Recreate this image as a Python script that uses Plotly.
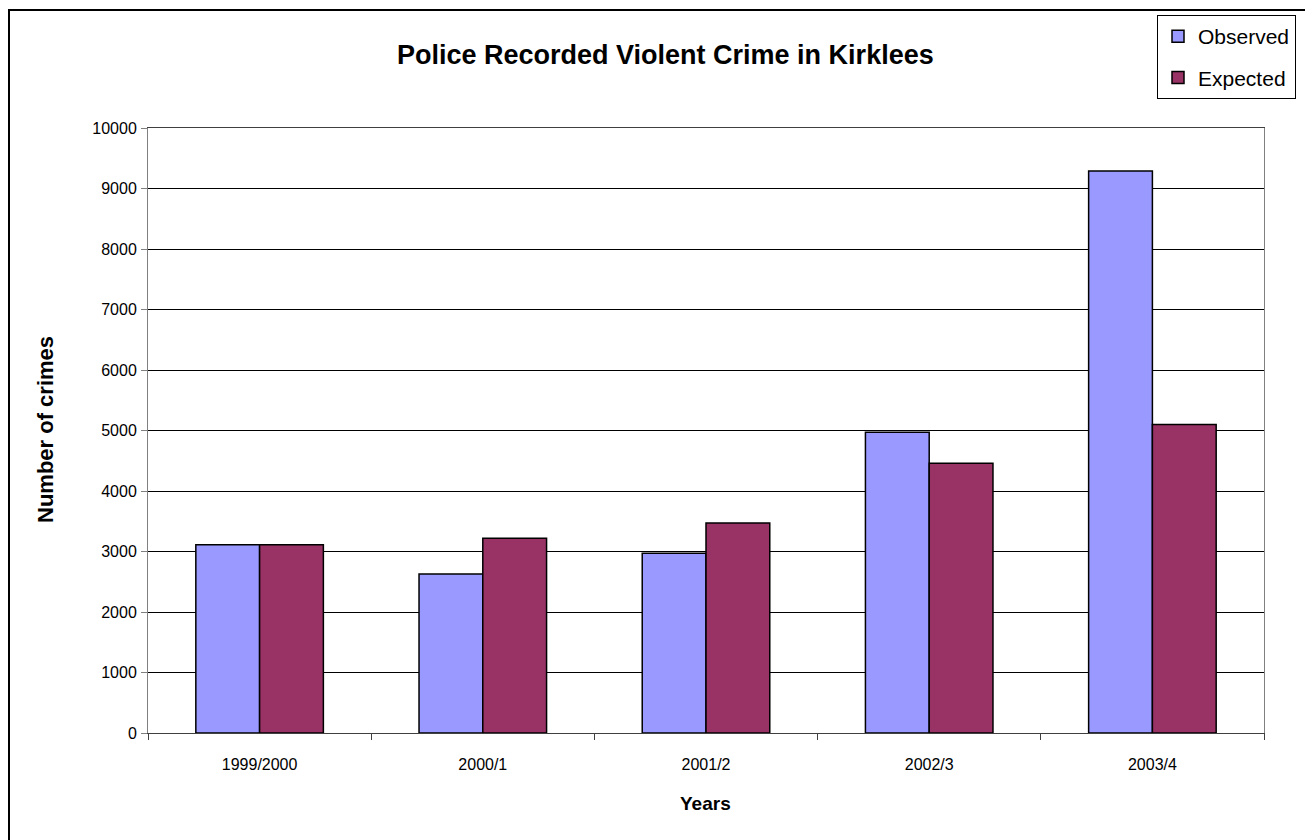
import plotly.graph_objects as go

years = ["1999/2000", "2000/1", "2001/2", "2002/3", "2003/4"]
observed = [3110, 2630, 2970, 4970, 9290]
expected = [3110, 3220, 3470, 4460, 5100]

W, H = 1305, 840
FONT = "Liberation Sans, Arial, sans-serif"

def px(x):
    return x / W

def py(y):
    return 1 - y / H

fig = go.Figure()
fig.add_trace(go.Bar(
    x=years, y=observed, name="Observed", legendgroup="a",
    marker=dict(color="#9999FF", line=dict(color="black", width=1.5)),
))
fig.add_trace(go.Bar(
    x=years, y=expected, name="Expected", legendgroup="b",
    marker=dict(color="#993366", line=dict(color="black", width=1.5)),
))

fig.update_layout(
    width=W, height=H,
    margin=dict(l=0, r=0, t=0, b=0, autoexpand=False),
    paper_bgcolor="white", plot_bgcolor="white",
    font=dict(family=FONT, size=16, color="black"),
    barmode="group", bargap=0.4286, bargroupgap=0,
    showlegend=True,
    legend=dict(
        x=px(1157), y=py(15), xanchor="left", yanchor="top",
        bordercolor="black", borderwidth=1, bgcolor="white",
        font=dict(family=FONT, size=21, color="black"),
        traceorder="grouped", tracegroupgap=11,
        entrywidth=108, entrywidthmode="pixels",
    ),
    xaxis=dict(
        domain=[px(148), px(1264)], type="category", automargin=False,
        showline=True, linecolor="#404040", linewidth=1, mirror=True,
        ticks="outside", tickson="boundaries", ticklen=6, tickcolor="#404040",
        showgrid=False, ticklabelstandoff=17,
        tickfont=dict(family=FONT, size=16, color="black"),
    ),
    yaxis=dict(
        domain=[py(733), py(128)], range=[0, 10000], dtick=1000, tickformat="d",
        automargin=False,
        showline=True, linecolor="#808080", linewidth=1, mirror=True,
        ticks="outside", ticklen=6, tickcolor="#808080",
        showgrid=True, gridcolor="black", gridwidth=1, zeroline=False,
        ticklabelstandoff=1,
        tickfont=dict(family=FONT, size=16, color="black"),
    ),
    shapes=[dict(
        type="rect", xref="paper", yref="paper",
        x0=px(9), x1=1.05, y0=-0.05, y1=py(10),
        line=dict(color="black", width=2), fillcolor="rgba(0,0,0,0)", layer="above",
    )],
    annotations=[
        dict(text="<b>Police Recorded Violent Crime in Kirklees</b>", xref="paper", yref="paper",
             x=px(665), y=py(55), xanchor="center", yanchor="middle", showarrow=False,
             font=dict(family=FONT, size=27, color="black")),
        dict(text="<b>Years</b>", xref="paper", yref="paper",
             x=px(706), y=py(803), xanchor="center", yanchor="middle", showarrow=False,
             font=dict(family=FONT, size=19, color="black")),
        dict(text="<b>Number of crimes</b>", xref="paper", yref="paper",
             x=px(46), y=py(430), xanchor="center", yanchor="middle", showarrow=False,
             textangle=-90, font=dict(family=FONT, size=22, color="black")),
    ],
)

fig.write_html(
    "out.html",
    config={"displayModeBar": False},
    post_script="document.body.style.margin='0';document.body.style.overflow='hidden';",
)
